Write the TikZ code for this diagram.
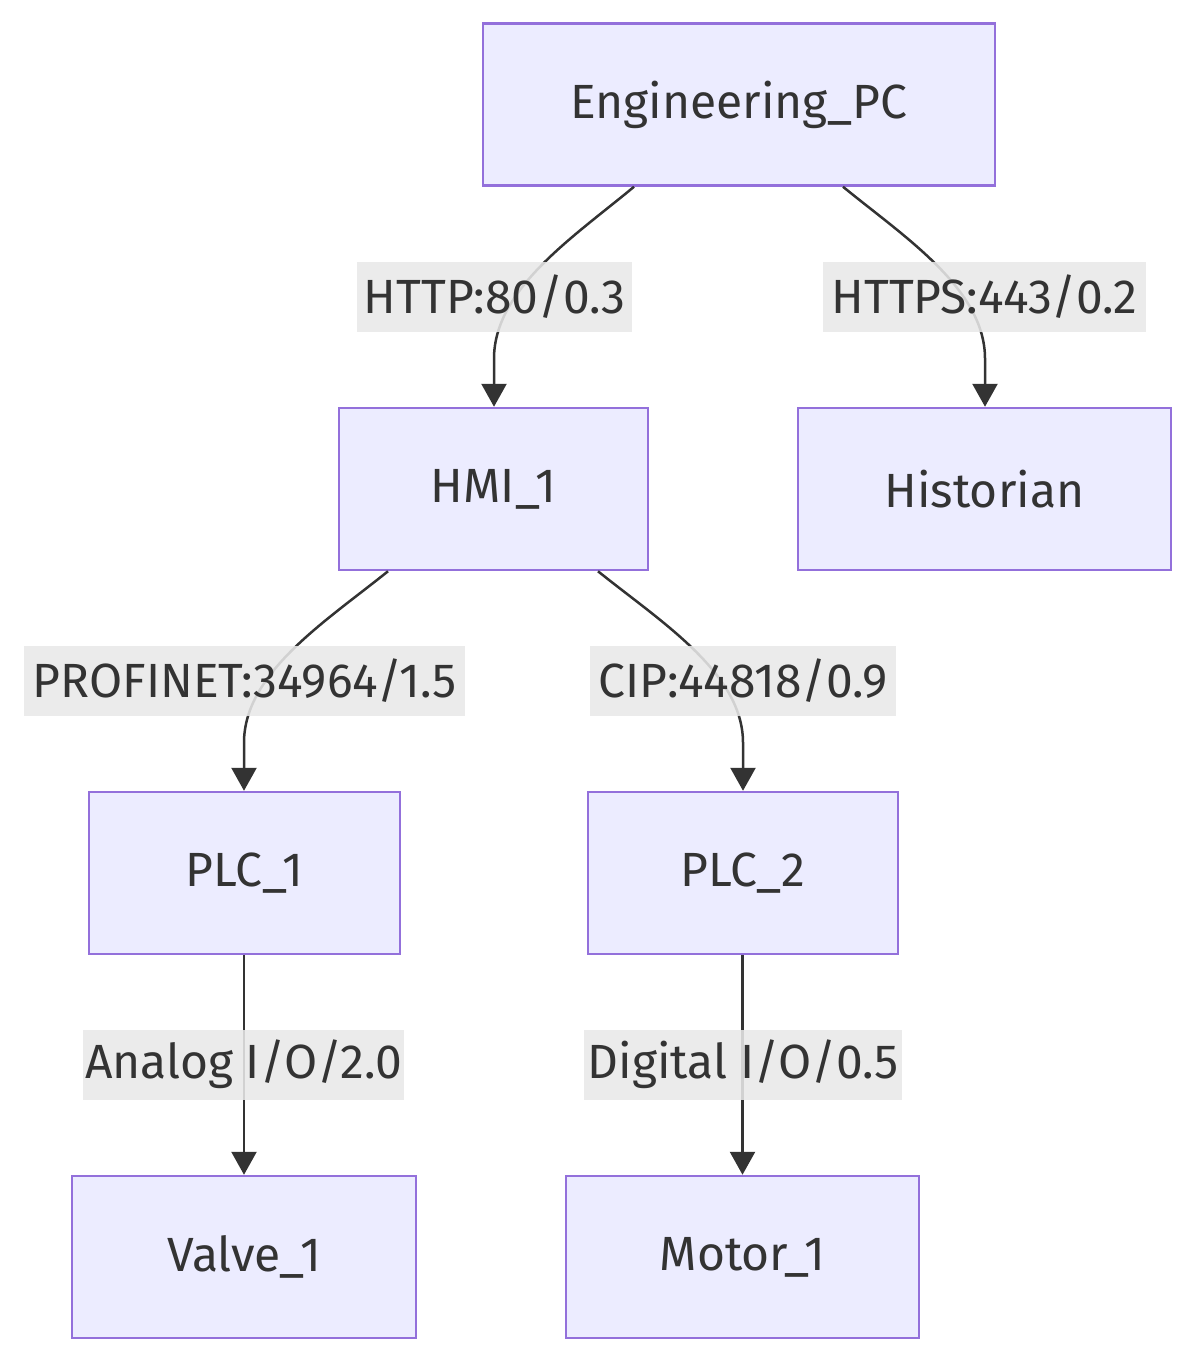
\documentclass[tikz,border=0pt]{standalone}
\usepackage{fontspec}
\setmainfont{Fira Sans}
\usetikzlibrary{arrows.meta,calc}
\definecolor{nodefill}{HTML}{ECECFF}
\definecolor{nodeline}{HTML}{9370DB}
\definecolor{ink}{HTML}{333333}
\definecolor{lblbg}{HTML}{E8E8E8}
\begin{document}
\begin{tikzpicture}[x=1pt,y=-1pt,
  box/.style={draw=nodeline,fill=nodefill,line width=2.5pt,text=ink,inner sep=0pt,minimum height=162pt,font=\fontsize{48}{57}\selectfont},
  lbl/.style={fill=lblbg,fill opacity=0.88,text opacity=1,text=ink,inner xsep=0pt,inner ysep=0pt,minimum height=70pt,font=\fontsize{48}{57}\selectfont},
  edge/.style={draw=ink,line width=2.5pt,-{Triangle[length=23pt,width=25pt]}}]
\useasboundingbox (0,0) rectangle (1195,1362);
\node[box,minimum width=512pt] (EPC) at (739,104.5) {Engineering\_PC};
\node[box,minimum width=309pt] (HMI) at (493.5,489) {HMI\_1};
\node[box,minimum width=373pt] (HIS) at (984.5,489) {Historian};
\node[box,minimum width=311pt] (PLC1) at (244.5,873) {PLC\_1};
\node[box,minimum width=310pt] (PLC2) at (743,873) {PLC\_2};
\node[box,minimum width=344pt] (VAL) at (244,1257) {Valve\_1};
\node[box,minimum width=353pt] (MOT) at (742.5,1257) {Motor\_1};
% edges
\draw[edge] ($(EPC.south)+(-105,0)$) .. controls +(-60,50) and +(0,-70) .. ($(HMI.north)+(0.5,-48)$) -- ($(HMI.north)+(0.5,0)$);
\draw[edge] ($(EPC.south)+(104,0)$) .. controls +(61,50) and +(0,-70) .. ($(HIS.north)+(0.5,-48)$) -- ($(HIS.north)+(0.5,0)$);
\draw[edge] ($(HMI.south)+(-105.5,0)$) .. controls +(-62,50) and +(0,-70) .. ($(PLC1.north)+(-0.5,-48)$) -- ($(PLC1.north)+(-0.5,0)$);
\draw[edge] ($(HMI.south)+(104.5,0)$) .. controls +(62,50) and +(0,-70) .. ($(PLC2.north)+(0,-48)$) -- (PLC2.north);
\draw[edge] ($(PLC1.south)+(-0.5,0)$) -- ($(VAL.north)+(0,0)$);
\draw[edge] ($(PLC2.south)+(-0.5,0)$) -- ($(MOT.north)+(0,0)$);
% labels
\node[lbl,minimum width=275pt] (L1) at (494.5,297) {HTTP:80/0.3};
\node[lbl,minimum width=323pt] (L2) at (984.5,297) {HTTPS:443/0.2};
\node[lbl,minimum width=441pt] (L3) at (244.5,681) {PROFINET:34964/1.5};
\node[lbl,minimum width=306pt] (L4) at (743,681) {CIP:44818/0.9};
\node[lbl,minimum width=321pt] (L5) at (243.5,1064.5) {Analog I/O/2.0};
\node[lbl,minimum width=318pt] (L6) at (743,1064.5) {Digital I/O/0.5};
\end{tikzpicture}
\end{document}
